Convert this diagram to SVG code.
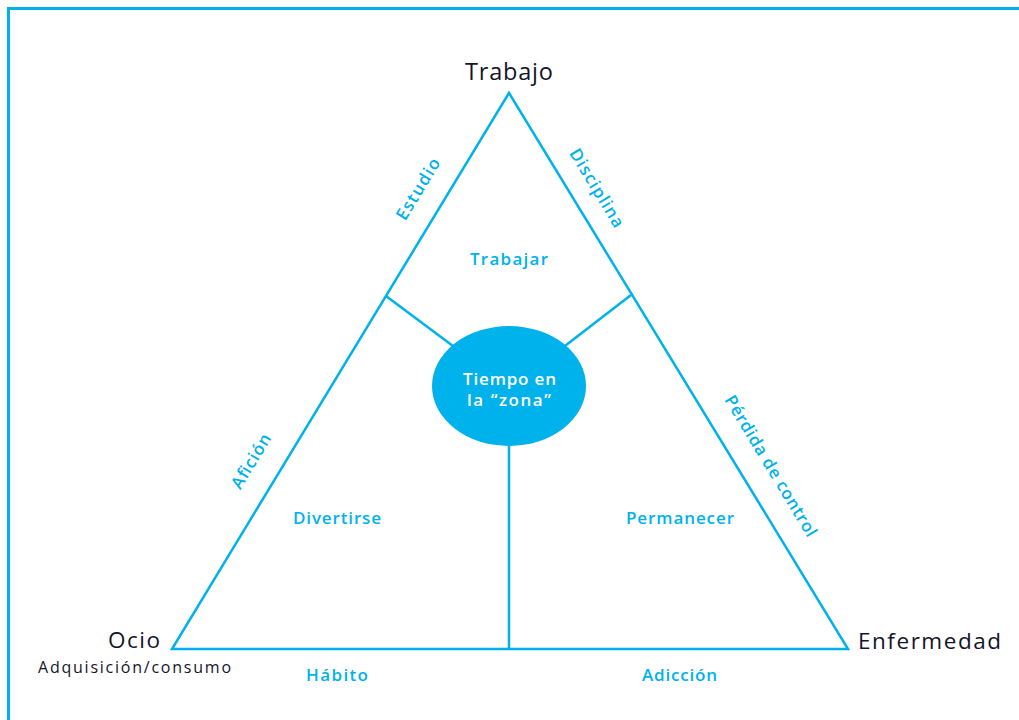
<svg xmlns="http://www.w3.org/2000/svg" width="1019" height="720" viewBox="0 0 1019 720">
<style>
.ln{fill:none;stroke:#00b2eb;stroke-width:2.5;stroke-linejoin:miter}
.c{font-family:"Open Sans","Noto Sans",sans-serif;font-weight:600;fill:#00b2eb;font-size:17px;text-anchor:middle}
.k{font-family:"Open Sans","Noto Sans",sans-serif;font-weight:500;fill:#14142a}
.w{font-family:"Open Sans","Noto Sans",sans-serif;font-weight:600;fill:#ffffff;font-size:17px;text-anchor:middle}
</style>
<rect width="1019" height="720" fill="#ffffff"/>
<path d="M8.5 720 V8.5 H1019" fill="none" stroke="#00b2eb" stroke-width="3"/>
<g id="connectors">
<polygon class="ln" points="509,93 172,649 848,649"/>
<line class="ln" x1="386" y1="296" x2="457" y2="349"/>
<line class="ln" x1="631" y1="295" x2="561" y2="349"/>
<line class="ln" x1="509" y1="444" x2="509" y2="649"/>
</g>
<g id="node-trabajo"><text class="k" x="509" y="80" font-size="23.5" text-anchor="middle" textLength="88" lengthAdjust="spacing">Trabajo</text></g>
<g id="node-ocio"><text class="k" x="134" y="648" font-size="22.5" text-anchor="middle" textLength="52" lengthAdjust="spacing">Ocio</text>
<text class="k" x="134.5" y="673" font-size="16" text-anchor="middle" textLength="193" lengthAdjust="spacing">Adquisición/consumo</text></g>
<g id="node-enfermedad"><text class="k" x="929.5" y="649" font-size="22.5" text-anchor="middle" textLength="143" lengthAdjust="spacing">Enfermedad</text></g>
<g id="node-zona"><ellipse cx="509" cy="386" rx="77" ry="60" fill="#00b2eb"/>
<text class="w" x="509.5" y="385" textLength="93" lengthAdjust="spacing">Tiempo en</text>
<text class="w" x="509" y="406" textLength="84" lengthAdjust="spacing">la “zona”</text></g>
<g id="labels">
<text class="c" x="509" y="265" textLength="78" lengthAdjust="spacing">Trabajar</text>
<text class="c" x="337" y="524" textLength="88" lengthAdjust="spacing">Divertirse</text>
<text class="c" x="680" y="524" textLength="108" lengthAdjust="spacing">Permanecer</text>
<text class="c" x="337" y="681" textLength="62" lengthAdjust="spacing">Hábito</text>
<text class="c" x="679.5" y="681" textLength="75" lengthAdjust="spacing">Adicción</text>
<text class="c" transform="translate(418,189) rotate(-58.8)" y="6" textLength="69" lengthAdjust="spacing">Estudio</text>
<text class="c" transform="translate(597,188) rotate(58.8)" y="6" textLength="89" lengthAdjust="spacing">Disciplina</text>
<text class="c" transform="translate(251,461) rotate(-58.8)" y="6" textLength="61" lengthAdjust="spacing">Afición</text>
<text class="c" transform="translate(771,466) rotate(58.8)" y="6" textLength="162" lengthAdjust="spacing">Pérdida de control</text>
</g>
</svg>
